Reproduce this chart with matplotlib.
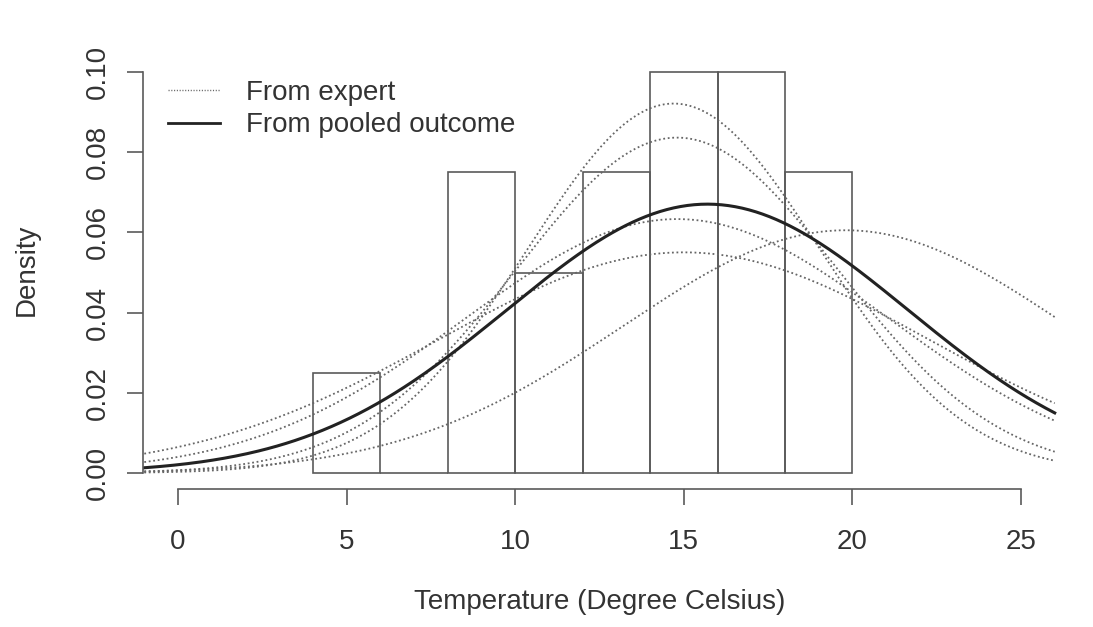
import numpy as np
import matplotlib
matplotlib.use("Agg")
import matplotlib.pyplot as plt
from matplotlib.lines import Line2D

plt.rcParams['font.family'] = ['Liberation Sans', 'DejaVu Sans']

# Histogram (density scale)
bin_edges = [4, 6, 8, 10, 12, 14, 16, 18, 20]
densities = [0.025, 0.0, 0.075, 0.05, 0.075, 0.10, 0.10, 0.075]

# Expert normal distributions (mean, sd)
expert_means = [14.7, 14.8, 14.8, 15.0, 19.8]
expert_sds = [4.33, 4.77, 6.30, 7.25, 6.59]

# Pooled outcome
pooled_mean = 15.7
pooled_sd = 5.95

x_ticks = [0, 5, 10, 15, 20, 25]
y_ticks = [0.00, 0.02, 0.04, 0.06, 0.08, 0.10]
y_tick_labels = ["0.00", "0.02", "0.04", "0.06", "0.08", "0.10"]

def npdf(x, m, s):
    return np.exp(-0.5 * ((x - m) / s) ** 2) / (s * np.sqrt(2 * np.pi))

W, H = 1093, 627
PT = 72 / 100  # points per pixel
fig = plt.figure(figsize=(W / 100, H / 100), dpi=100)
xlim = (-1.04, 26.5)
ylim = (-0.004, 0.104)
px0 = 178 + 33.72 * xlim[0]
px1 = 178 + 33.72 * xlim[1]
py_top = 473 - 4010 * ylim[1]
py_bot = 473 - 4010 * ylim[0]
ax = fig.add_axes([px0 / W, 1 - py_bot / H, (px1 - px0) / W, (py_bot - py_top) / H])
ax.set_xlim(*xlim)
ax.set_ylim(*ylim)

txt = '#333333'
edge = '#5a5a5a'
fs = 20

lefts = np.array(bin_edges[:-1])
widths = np.diff(bin_edges)
ax.bar(lefts, densities, width=widths, align='edge', facecolor='none',
       edgecolor=edge, linewidth=1.2)

xs = np.linspace(-1, 26, 400)
dot_style = (0, (1, 1.5))
for m, s in zip(expert_means, expert_sds):
    ax.plot(xs, npdf(xs, m, s), linestyle=dot_style, color='#666666', linewidth=1.3)
ax.plot(xs, npdf(xs, pooled_mean, pooled_sd), color='#222222', linewidth=2.2)

for side in ['top', 'right']:
    ax.spines[side].set_visible(False)
ax.spines['left'].set_bounds(0, 0.10)
ax.spines['bottom'].set_bounds(0, 25)
for side in ['left', 'bottom']:
    ax.spines[side].set_color(edge)
    ax.spines[side].set_linewidth(1.2)

ax.set_xticks(x_ticks)
ax.set_xticklabels([str(v) for v in x_ticks])
ax.set_yticks(y_ticks)
ax.set_yticklabels(y_tick_labels, rotation=90, va='center')
ax.tick_params(axis='both', length=16 * PT, width=1.2, color=edge, labelsize=fs,
               labelcolor=txt)
ax.tick_params(axis='x', pad=24 * PT)
ax.tick_params(axis='y', pad=16 * PT)

fig.text(600 / W, 1 - 602 / H, "Temperature (Degree Celsius)", ha='center', va='center',
         fontsize=fs, color=txt)
fig.text(27 / W, 1 - 270 / H, "Density", ha='center', va='center', rotation=90,
         fontsize=fs, color=txt)

handles = [Line2D([], [], linestyle=(0, (0.8, 1.2)), color='#666666', linewidth=1.0),
           Line2D([], [], color='#222222', linewidth=2.0)]
ax.legend(handles, ["From expert", "From pooled outcome"], loc='upper left',
          bbox_to_anchor=((168 - px0) / (px1 - px0), 1 - (80 - py_top) / (py_bot - py_top)),
          frameon=False, fontsize=fs, handlelength=1.87, handletextpad=0.93,
          labelspacing=0.23, labelcolor=txt, borderaxespad=0, borderpad=0)

fig.savefig("out.png", dpi=100, facecolor='white')
